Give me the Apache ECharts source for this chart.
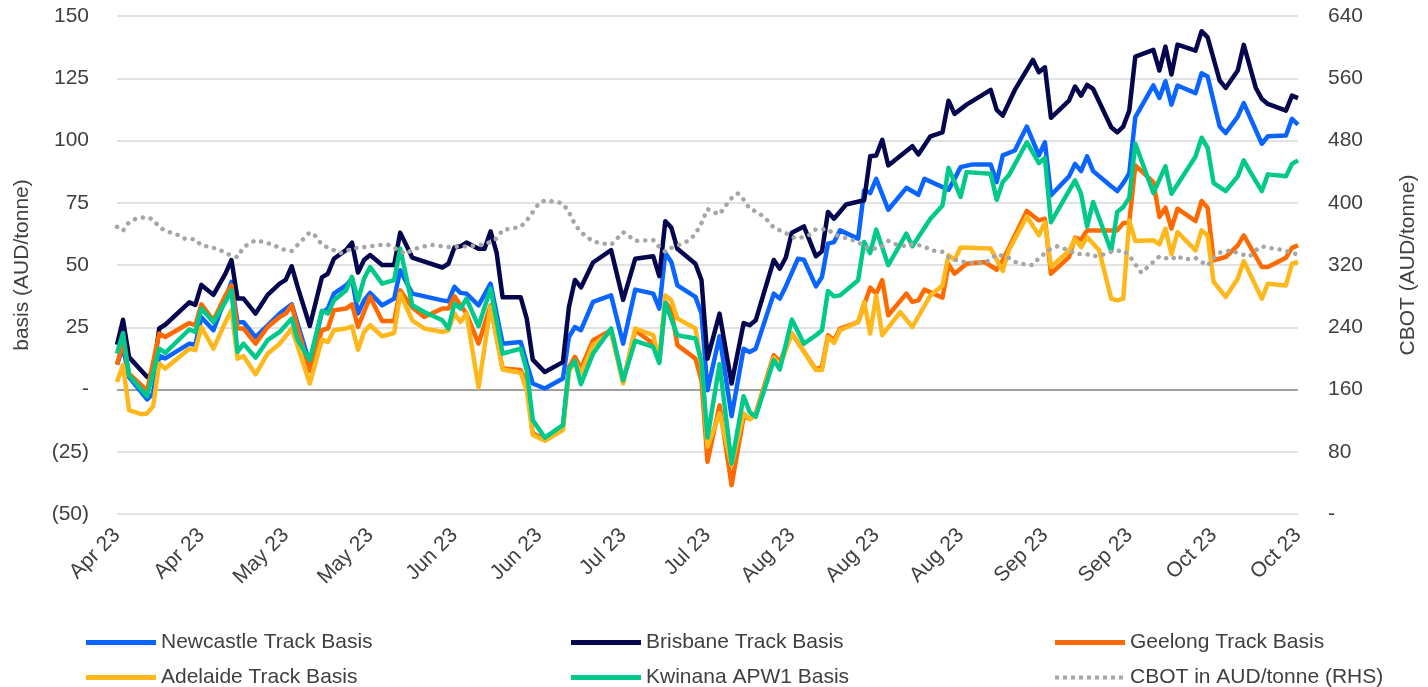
<!DOCTYPE html>
<html>
<head>
<meta charset="utf-8">
<script src="https://cdn.jsdelivr.net/npm/echarts@6/dist/echarts.min.js"></script>
<style>
html,body{margin:0;padding:0;background:#fff;}
#chart{width:1428px;height:687px;}
</style>
</head>
<body>
<div id="chart"></div>
<script>
// x values are calendar-day offsets from 12 Apr 2023; ticks every 14 days
const xTickLabels = ['Apr 23','Apr 23','May 23','May 23','Jun 23','Jun 23','Jul 23','Jul 23','Aug 23','Aug 23','Aug 23','Sep 23','Sep 23','Oct 23','Oct 23'];
const seriesNames = ['Newcastle Track Basis','Brisbane Track Basis','Geelong Track Basis','Adelaide Track Basis','Kwinana APW1 Basis','CBOT in AUD/tonne (RHS)'];

const newcastle = [[0,10],[1,17],[2,5],[5,-4],[6,-1.6],[7,13.5],[8,12.5],[12,18.4],[13,18],[14,29],[16,23.8],[19,43.2],[20,27],[21,27],[23,21],[27,30.5],[29,34.2],[32,10.4],[34,31],[35,32.5],[36,38.5],[38,41.8],[39,44.5],[40,30.5],[41,35.8],[42,38.8],[44,33.8],[46,36.5],[47,47.9],[49,38.5],[54,35.8],[55,35.4],[56,41.2],[57,38.8],[58,38.5],[60,33.8],[62,42.5],[64,18.4],[67,19.1],[68,10.4],[69,2.4],[71,0.4],[74,4.4],[75,21.1],[76,25.1],[77,23.8],[79,35.2],[82,37.8],[84,18.4],[86,40.1],[89,38.5],[90,32.5],[91,54.8],[92,51.2],[93,41.8],[96,37.2],[97,30.5],[98,-0.3],[100,21.4],[102,-10.7],[104,16.4],[105,15.1],[106,16.4],[109,38.5],[110,36.5],[111,41.4],[113,52.5],[114,52.1],[116,41.4],[117,45.2],[118,58.6],[119,59.2],[120,63.9],[123,60.6],[124,80],[125,78.9],[126,84.6],[128,72.2],[131,81],[133,78.2],[134,84.6],[138,80.2],[139,84.6],[140,89.3],[142,90.4],[145,90.4],[146,83.3],[147,94],[149,96],[151,105.6],[153,94],[154,99.3],[155,78],[158,85.6],[159,90.6],[160,87.7],[161,93.6],[162,87.7],[165,81.6],[166,79.7],[167,82.9],[168,86.9],[169,109.4],[172,122.1],[173,117.1],[174,123.8],[175,114.4],[176,122.1],[179,119],[180,127],[181,125.7],[183,105.6],[184,103],[186,109.6],[187,115],[190,98.7],[191,101.7],[194,102],[195,108.7],[196,106.4]];

const brisbane = [[0,18],[1,28],[2,13],[5,5],[6,6.5],[7,24.5],[8,26],[12,35],[13,34],[14,42],[16,38],[18,46.5],[19,52],[20,36.5],[21,36.5],[23,30.5],[25,38],[27,42.5],[28,44],[29,49.5],[30,41],[32,25.5],[34,45],[35,46.5],[36,52.5],[38,56],[39,59],[40,47],[41,52],[42,54],[44,50],[46,50],[47,63],[49,53],[54,49],[55,50.5],[56,57],[57,57.5],[58,59],[60,56.5],[61,56.5],[62,63.5],[63,55],[64,37],[67,37],[68,28.5],[69,12],[71,7],[74,11],[75,33],[76,44],[77,41],[79,51],[82,56],[84,36],[86,52.5],[89,53.5],[90,45.5],[91,67.6],[92,65],[93,56.5],[96,50.5],[97,44],[98,12.4],[100,30.5],[102,2.4],[104,26.7],[105,25.8],[106,27.8],[109,52],[110,48.5],[111,53],[112,63],[114,65.5],[116,53.5],[117,55.5],[118,71.3],[119,68.6],[121,74.3],[124,76],[125,93.7],[126,94],[127,100.3],[128,90],[132,97.7],[133,94.4],[135,101.7],[137,103.3],[138,116],[139,110.7],[141,114.4],[145,120.3],[146,112.3],[147,110],[149,120.3],[152,132.4],[153,127.4],[154,129.4],[155,109.1],[158,116],[159,121.7],[160,118],[161,122.3],[162,120.7],[165,105.3],[166,103.3],[167,105.6],[168,112],[169,133.7],[172,136.4],[173,128.1],[174,137.7],[175,126.5],[176,138.5],[179,136.1],[180,143.9],[181,141.4],[183,124.1],[184,121.1],[186,128.1],[187,138.4],[189,121.1],[190,116.7],[191,114.7],[194,112],[195,118],[196,117]];

const geelong = [[0,10],[1,19],[2,6.4],[5,-0.5],[7,22.5],[8,21.1],[12,26.7],[13,25.8],[14,34.2],[16,27.8],[18,37.8],[19,41.8],[20,24.5],[21,24.5],[23,18.4],[25,25.1],[27,29.1],[28,30.5],[29,33.8],[30,24.5],[32,7.5],[34,23.8],[35,24.5],[36,31.8],[38,32.5],[39,34.2],[40,25.1],[42,37.2],[44,27.5],[46,27.5],[47,39.8],[49,32.9],[51,29.1],[54,32.5],[55,32.5],[56,37.4],[58,30.5],[60,18.4],[62,33.8],[64,8.4],[67,7.8],[68,2.4],[69,-17.6],[71,-20],[74,-15.6],[75,9.1],[76,13.1],[77,8.4],[79,19.8],[82,23.8],[84,3.1],[86,23.8],[89,18.4],[90,11.1],[91,35.2],[92,31.8],[93,17.8],[96,12.4],[97,3.7],[98,-29],[100,-6.3],[102,-38.4],[104,-11],[105,-11.6],[106,-9.6],[109,13.8],[110,11.1],[112,22.5],[116,8],[117,9.1],[118,21.8],[119,19.8],[120,24.5],[123,27.1],[125,40.9],[126,38.5],[127,43.9],[128,29.8],[131,38.5],[132,35.2],[133,35.8],[134,40.1],[137,36.9],[138,50.3],[139,46.5],[141,50.5],[144,51.2],[146,48.1],[147,51.9],[151,71.7],[153,67.9],[154,68.6],[155,46.5],[158,53.2],[159,61],[160,60.2],[161,63.9],[165,63.9],[166,63.9],[167,66.8],[168,67.2],[169,90],[172,83.3],[173,69.3],[174,73],[175,64.6],[176,72.6],[179,67.6],[180,75.7],[181,73],[182,51.9],[184,53.2],[186,57.9],[187,61.9],[190,49.2],[191,49.2],[194,52.9],[195,56.9],[196,57.9]];

const adelaide = [[0,3],[1,9.8],[2,-8.3],[4,-9.9],[5,-9.6],[6,-6.7],[7,10.4],[8,8.4],[12,16.4],[13,15.8],[14,25.1],[16,16.4],[18,27.1],[19,31.8],[20,12.4],[21,13.4],[23,6.1],[25,14.4],[27,18.4],[29,24.5],[30,17.1],[32,2.4],[34,20],[35,19.1],[36,23.8],[38,24.5],[39,25.4],[40,16],[41,23.1],[42,25.8],[44,21.4],[46,22.7],[47,38.5],[49,27.8],[51,24.5],[54,23.1],[55,23.8],[56,30.5],[57,27.1],[58,30.5],[60,0.8],[62,33.2],[64,8],[67,6.7],[68,-0.3],[69,-18.3],[71,-20.6],[74,-16.3],[75,7.1],[76,11.5],[77,6.4],[79,17.8],[82,23.1],[84,2.4],[86,24.5],[89,21.8],[90,11.8],[91,37.8],[92,35.8],[93,28.5],[96,24.5],[97,10.4],[98,-23],[100,-9.6],[102,-30.3],[104,-9.6],[105,-12],[106,-10.3],[109,12.8],[110,9.4],[112,22.5],[116,7.8],[117,7.8],[118,21.1],[119,18.7],[120,23.8],[123,27.1],[124,35.2],[125,22.5],[126,37.8],[127,21.8],[130,31.1],[132,25.1],[135,37.8],[137,41.8],[138,53.9],[139,52.1],[140,57],[145,56.6],[147,47.6],[148,55.9],[151,69.5],[153,61.9],[154,67.2],[155,49.2],[158,55.6],[159,60.6],[160,57.2],[161,61.2],[163,55.9],[165,36.5],[166,35.8],[167,36.5],[168,67.9],[169,59.6],[172,59.9],[173,58.3],[174,64.6],[175,54.3],[176,63.2],[179,55.9],[180,63.9],[181,61.9],[182,43.2],[184,37.2],[186,44.5],[187,51.6],[190,36.5],[191,42.5],[194,41.8],[195,50.5],[196,51.2]];

const kwinana = [[0,14.4],[1,22.7],[2,5.7],[5,-2.7],[7,16.4],[8,14.7],[12,24.1],[13,23.1],[14,32.5],[16,27.1],[18,35.2],[19,39.8],[20,15.1],[21,18.4],[23,12.8],[25,19.8],[27,23.1],[29,28.5],[30,19.8],[32,11.8],[34,31.6],[35,30.5],[36,35.8],[38,39.8],[39,45.2],[40,35.8],[41,44.5],[42,49.2],[44,42.5],[46,43.9],[47,56.6],[49,33.8],[51,31.1],[54,27.8],[55,24.5],[56,34.5],[57,32.5],[58,36.5],[60,25.4],[62,40.5],[64,14.4],[67,16.4],[68,7.8],[69,-12.3],[71,-19.3],[74,-14.3],[75,8.4],[76,11.5],[77,2.1],[79,14.4],[82,24.5],[84,3.7],[86,19.5],[89,17.1],[90,10.7],[91,34.8],[93,21.8],[96,20.5],[97,11.1],[98,-19.3],[100,10.2],[102,-29.7],[104,-2.7],[105,-9],[106,-11],[109,11.8],[110,8],[112,28.1],[114,18.4],[116,21.8],[117,23.8],[118,39.6],[119,37.4],[120,37.8],[123,43.9],[124,59.2],[125,54.8],[126,64.2],[128,49.9],[131,62.6],[132,57.5],[135,68.6],[137,73.9],[138,89],[139,83.3],[140,77.3],[141,87.3],[145,86.6],[146,76.2],[147,83.3],[148,86],[151,99.3],[153,90.9],[154,93],[155,67.2],[159,84],[160,78.6],[161,65.5],[162,75.3],[165,55.6],[166,71.3],[167,73.3],[168,77],[169,98.7],[172,78.9],[174,89.6],[175,78.6],[179,93.6],[180,101.1],[181,97.1],[182,82.9],[184,79.7],[186,85.6],[187,92],[188,87.7],[190,79.7],[191,86.4],[194,85.6],[195,90.6],[196,92]];

const cbot = [[0,369],[1,364],[2,375],[3,379],[5,382],[6,378],[7,369],[8,364],[10,359],[11,354],[13,353],[14,345],[15,344],[17,340],[18,335],[20,330],[21,343],[23,352],[24,350],[26,346],[27,341],[29,338],[30,346],[31,354],[32,362],[33,357],[34,346],[36,339],[37,335],[39,341],[44,346],[45,346],[48,334],[49,340],[52,346],[55,343],[58,344],[61,346],[63,354],[64,365],[67,369],[68,377],[70,399],[71,403],[73,401],[74,399],[75,388],[76,372],[77,362],[79,350],[82,346],[83,354],[84,362],[85,357],[86,351],[89,352],[90,343],[91,337],[92,342],[94,348],[95,352],[96,360],[97,374],[98,392],[99,388],[100,385],[101,396],[102,406],[103,412],[104,404],[105,392],[106,389],[107,384],[108,377],[109,368],[111,361],[112,356],[113,354],[115,359],[116,366],[118,366],[119,359],[120,357],[122,352],[123,350],[124,343],[126,341],[127,344],[128,351],[129,347],[131,344],[132,347],[134,344],[135,339],[137,337],[138,330],[139,327],[141,323],[144,323],[145,327],[146,334],[148,329],[149,324],[151,320],[152,320],[153,329],[155,341],[156,344],[158,339],[159,334],[161,334],[162,331],[164,334],[165,337],[167,339],[168,332],[169,321],[170,310],[171,317],[172,324],[173,331],[175,327],[176,332],[177,327],[179,329],[180,324],[181,319],[182,329],[183,336],[185,339],[186,335],[188,331],[189,339],[190,344],[192,341],[193,340],[195,336],[196,333]];

const colors = ['#0A64FF','#06064F','#FF6A00','#FFB81C','#00C98A','#A6A6A6'];
const FONT = 'Liberation Sans, Arial, sans-serif';
const TXT = '#404040';

// legend icons: solid bar, and a dotted bar for the CBOT series
const ICON_SOLID = 'path://M0,0H70V5H0Z';
const ICON_DOTS = 'path://M0,0.5h4v4h-4z M8,0.5h4v4h-4z M16,0.5h4v4h-4z M24,0.5h4v4h-4z M32,0.5h4v4h-4z M40,0.5h4v4h-4z M48,0.5h4v4h-4z M56,0.5h4v4h-4z M64,0.5h4v4h-4z M70,0v5z';

function fmtLeft(v){ if (v === 0) return '-'; if (v < 0) return '(' + (-v) + ')'; return String(v); }
function fmtRight(v){ return v === 0 ? '-' : String(v); }

const chart = echarts.init(document.getElementById('chart'), null, {renderer:'canvas'});

function lineSeries(idx, data, yIdx, extra){
  return Object.assign({
    name: seriesNames[idx],
    type: 'line',
    yAxisIndex: yIdx,
    data: data,
    symbol: 'none',
    showSymbol: false,
    smooth: false,
    lineStyle: {color: colors[idx], width: 4.5, join: 'round'},
    itemStyle: {color: colors[idx]},
    emphasis: {disabled: true},
    silent: true
  }, extra || {});
}

function legendItem(i){
  return {name: seriesNames[i], icon: i === 5 ? ICON_DOTS : ICON_SOLID};
}

const legendBase = {
  orient: 'vertical',
  top: 627,
  height: 120,
  itemWidth: 70,
  itemHeight: 5,
  itemGap: 14,
  selectedMode: false,
  textStyle: {fontFamily: FONT, fontSize: 21, color: TXT}
};

const option = {
  animation: false,
  backgroundColor: '#ffffff',
  grid: {left: 117, right: 130, top: 16, bottom: 173, containLabel: false},
  legend: [
    Object.assign({}, legendBase, {left: 81, data: [legendItem(0), legendItem(3)]}),
    Object.assign({}, legendBase, {left: 566, data: [legendItem(1), legendItem(4)]}),
    Object.assign({}, legendBase, {left: 1050, data: [legendItem(2), legendItem(5)]})
  ],
  xAxis: {
    type: 'value',
    min: 0, max: 196, interval: 14,
    axisLine: {show: false},
    axisTick: {show: false},
    splitLine: {show: false},
    axisLabel: {
      rotate: 45,
      margin: 18,
      fontFamily: FONT, fontSize: 21, color: TXT,
      formatter: function(v){ return xTickLabels[Math.round(v / 14)] || ''; }
    }
  },
  yAxis: [
    {
      type: 'value',
      min: -50, max: 150, interval: 25,
      name: 'basis (AUD/tonne)',
      nameLocation: 'middle',
      nameRotate: 90,
      nameGap: 84,
      nameTextStyle: {fontFamily: FONT, fontSize: 21, color: TXT},
      axisLine: {show: false},
      axisTick: {show: false},
      axisLabel: {margin: 28, fontFamily: FONT, fontSize: 21, color: TXT, formatter: fmtLeft},
      splitLine: {show: true, lineStyle: {width: 1.5, color: ['#d9d9d9','#d9d9d9','#808080','#d9d9d9','#d9d9d9','#d9d9d9','#d9d9d9','#d9d9d9','#d9d9d9']}}
    },
    {
      type: 'value',
      min: 0, max: 640, interval: 80,
      name: 'CBOT (AUD/tonne)',
      nameLocation: 'middle',
      nameRotate: 90,
      nameGap: 100,
      nameTextStyle: {fontFamily: FONT, fontSize: 21, color: TXT},
      axisLine: {show: false},
      axisTick: {show: false},
      axisLabel: {margin: 30, fontFamily: FONT, fontSize: 21, color: TXT, formatter: fmtRight},
      splitLine: {show: false}
    }
  ],
  series: [
    lineSeries(0, newcastle, 0),
    lineSeries(1, brisbane, 0),
    lineSeries(2, geelong, 0),
    lineSeries(3, adelaide, 0),
    lineSeries(4, kwinana, 0),
    lineSeries(5, cbot, 1, {lineStyle: {color: colors[5], width: 4.5, type: [0.1, 8], cap: 'round'}})
  ]
};
chart.setOption(option);
</script>
</body>
</html>
